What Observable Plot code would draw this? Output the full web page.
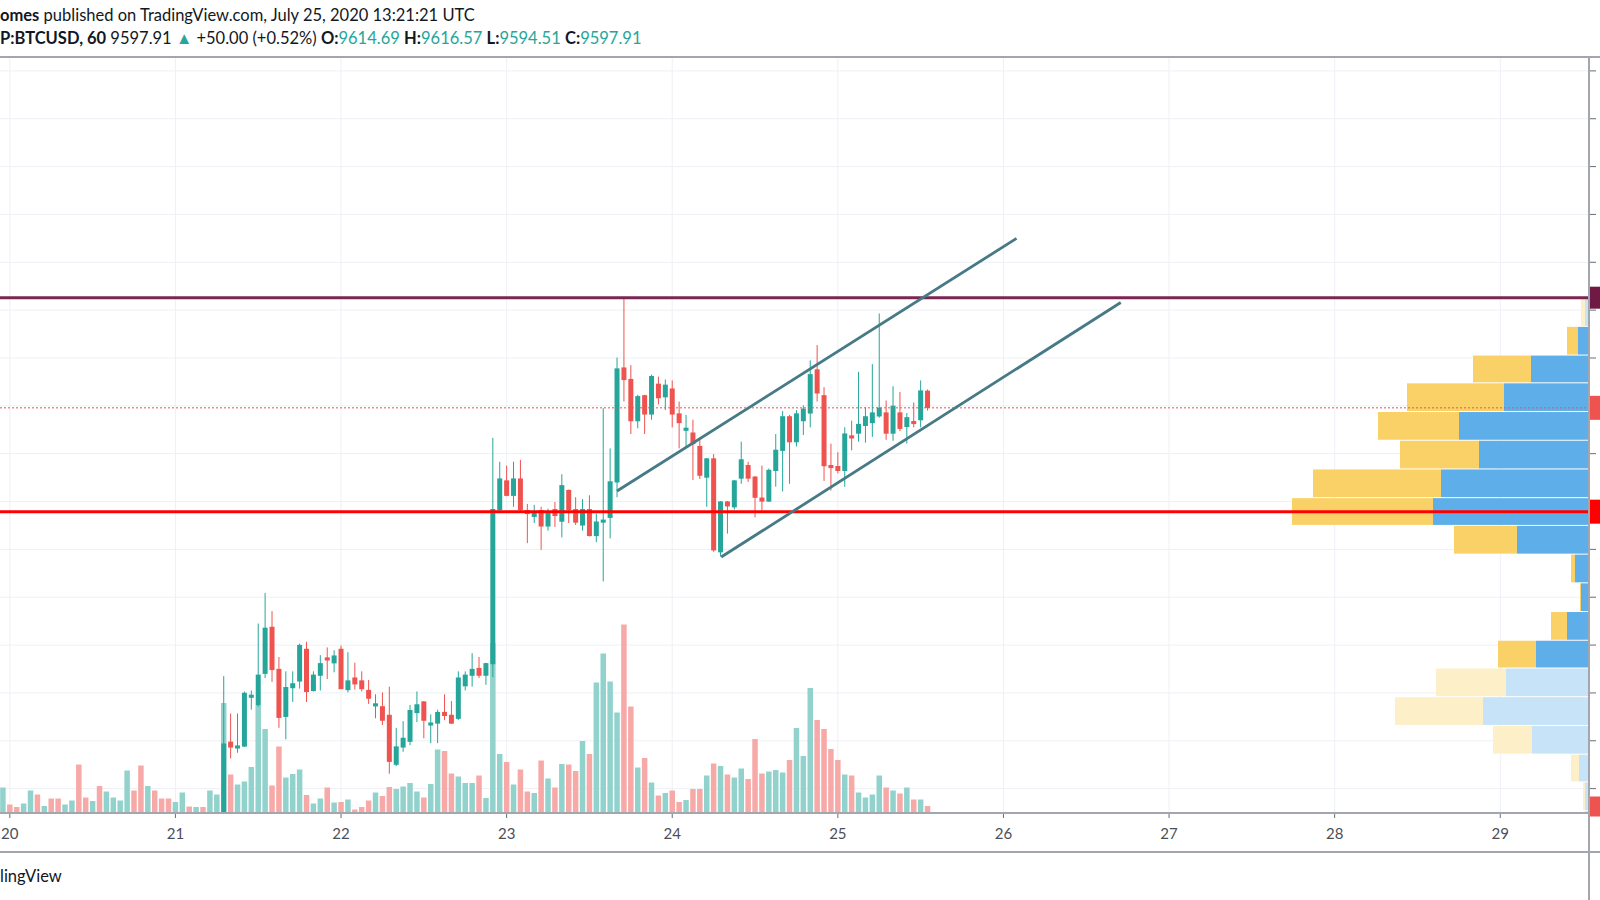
<!DOCTYPE html>
<html>
<head>
<meta charset="utf-8">
<script src="https://cdn.jsdelivr.net/npm/d3@7"></script>
<script src="https://cdn.jsdelivr.net/npm/@observablehq/plot@0.6"></script>
<style>
  body { margin: 0; background: #fff; }
  #page { position: relative; width: 1600px; height: 900px; overflow: hidden; background: #fff;
          font-family: Lato, "Open Sans", sans-serif; color: #131722; }
  .hdr { position: absolute; left: 0; white-space: nowrap; font-size: 16.5px; line-height: 20px; }
  .teal { color: #26a69a; }
  .layer { position: absolute; left: 0; top: 57px; }
  .hline { position: absolute; left: 0; height: 2px; background: #a3a6af; }
  .vline { position: absolute; width: 2px; background: #a3a6af; }
</style>
</head>
<body>
<div id="page">
  <div class="hdr" id="line1" style="top:5px"></div>
  <div class="hdr" id="line2" style="top:28px"></div>
  <div id="layers"></div>
  <div class="hline" style="top:56px; width:1600px"></div>
  <div class="hline" style="top:812px; width:1589px"></div>
  <div class="hline" style="top:851px; width:1600px"></div>
  <div class="vline" style="left:1588px; top:56px; height:844px"></div>
  <div class="hdr" id="footer" style="top:866px; font-size:16.5px"></div>
</div>
<script>
// ---------- header texts ----------
const publisher = "omes";
const publishedText = " published on TradingView.com, July 25, 2020 13:21:21 UTC";
const symbolText = "P:BTCUSD, 60";
const changeText = "+50.00 (+0.52%)";
const footerText = "lingView";

// ---------- axes ----------
const xDomainStart = "2020-07-19T22:39:00Z";
const xDomainEnd = "2020-07-29T12:56:00Z";
const priceDomain = [9174, 9964];
const dayTicks = ["2020-07-20", "2020-07-21", "2020-07-22", "2020-07-23", "2020-07-24",
                  "2020-07-25", "2020-07-26", "2020-07-27", "2020-07-28", "2020-07-29"];
const dayLabels = ["20", "21", "22", "23", "24", "25", "26", "27", "28", "29"];
const priceTicks = [9200, 9250, 9300, 9350, 9400, 9450, 9500, 9550, 9600, 9650,
                    9700, 9750, 9800, 9850, 9900, 9950];

// ---------- hourly candles (from 2020-07-21 07:00 UTC) ----------
const candleStart = "2020-07-21T07:00:00Z";
const candleOpen = [
  9160, 9248, 9242, 9244, 9295, 9287, 9320, 9368, 9324, 9275,
  9305, 9312, 9345, 9302, 9318, 9336, 9331, 9345, 9303, 9315,
  9312, 9302, 9286, 9285, 9276, 9225, 9243, 9249, 9279, 9290,
  9266, 9268, 9279, 9276, 9273, 9307, 9318, 9325, 9318, 9330,
  9491, 9521, 9506, 9523, 9490, 9484, 9490, 9474, 9491, 9479,
  9511, 9491, 9475, 9491, 9464, 9478, 9483, 9520, 9639, 9627,
  9584, 9610, 9591, 9622, 9609, 9617, 9591, 9574, 9571, 9557,
  9525, 9544, 9447, 9499, 9494, 9524, 9537, 9525, 9503, 9500,
  9532, 9553, 9588, 9562, 9584, 9592, 9637, 9610, 9537, 9536,
  9532, 9568, 9571, 9579, 9582, 9589, 9592, 9571, 9592, 9578,
  9583, 9585, 9614.69];
const candleHigh = [
  9317, 9278, 9278, 9301, 9302, 9372, 9404, 9385, 9337, 9322,
  9322, 9351, 9353, 9322, 9339, 9347, 9344, 9349, 9342, 9331,
  9322, 9313, 9298, 9300, 9306, 9263, 9270, 9287, 9301, 9291,
  9277, 9282, 9298, 9291, 9322, 9322, 9341, 9337, 9331, 9566,
  9541, 9537, 9541, 9543, 9497, 9496, 9494, 9492, 9499, 9528,
  9512, 9504, 9502, 9506, 9487, 9597, 9555, 9650, 9713, 9642,
  9611, 9611, 9632, 9630, 9627, 9626, 9604, 9590, 9585, 9565,
  9545, 9549, 9500, 9500, 9522, 9562, 9541, 9526, 9537, 9534,
  9570, 9594, 9590, 9595, 9600, 9647, 9663, 9619, 9560, 9551,
  9577, 9584, 9635, 9598, 9643, 9696, 9605, 9620, 9614, 9592,
  9603, 9626, 9616.57];
const candleLow = [
  9150, 9231, 9237, 9243, 9282, 9285, 9315, 9311, 9263, 9251,
  9290, 9304, 9290, 9301, 9302, 9314, 9321, 9304, 9300, 9303,
  9301, 9288, 9273, 9266, 9215, 9223, 9238, 9245, 9269, 9252,
  9247, 9247, 9271, 9267, 9271, 9302, 9306, 9315, 9308, 9316,
  9490, 9505, 9494, 9489, 9456, 9477, 9449, 9469, 9473, 9462,
  9477, 9475, 9469, 9463, 9457, 9416, 9461, 9504, 9604, 9570,
  9576, 9570, 9585, 9601, 9595, 9577, 9555, 9557, 9522, 9523,
  9494, 9447, 9442, 9466, 9491, 9518, 9520, 9483, 9490, 9499,
  9515, 9510, 9518, 9557, 9569, 9577, 9604, 9521, 9511, 9529,
  9515, 9553, 9562, 9561, 9567, 9587, 9564, 9563, 9573, 9560,
  9577, 9577, 9594.51];
const candleClose = [
  9246, 9243, 9244, 9299, 9297, 9318, 9367, 9324, 9274, 9305,
  9309, 9349, 9301, 9318, 9330, 9334, 9338, 9304, 9312, 9309,
  9304, 9294, 9288, 9271, 9228, 9243, 9252, 9281, 9287, 9271,
  9268, 9279, 9276, 9268, 9315, 9318, 9324, 9318, 9330, 9491,
  9523, 9506, 9523, 9491, 9487, 9488, 9474, 9488, 9485, 9516,
  9491, 9478, 9491, 9464, 9478, 9480, 9520, 9638, 9627, 9584,
  9609, 9591, 9630, 9608, 9621, 9591, 9582, 9576, 9560, 9527,
  9544, 9449, 9499, 9495, 9521, 9543, 9524, 9504, 9500, 9532,
  9553, 9588, 9562, 9591, 9596, 9632, 9613, 9537, 9535, 9532,
  9570, 9566, 9580, 9588, 9592, 9597, 9571, 9599, 9576, 9587,
  9581, 9615, 9597.91];

// ---------- hourly volume (from 2020-07-19 23:00 UTC) ----------
const volumeStart = "2020-07-19T23:00:00Z";
const volumeValues = [
  51, 17, 12, 19, 45, 37, 14, 29, 29, 17, 25, 97, 31, 24, 54, 43, 31, 25, 85, 45,
  95, 54, 45, 29, 29, 22, 41, 13, 12, 12, 45, 37,
  220, 77, 57, 63, 92, 215, 168, 55, 133, 71,
  78, 87, 36, 19, 29, 51, 21, 22, 27, 7,
  12, 25, 41, 34, 52, 48, 53, 60, 43, 31,
  58, 127, 124, 79, 73, 60, 60, 75, 30, 340,
  118, 102, 57, 87, 43, 40, 105, 69, 51, 98,
  97, 84, 144, 118, 261, 319, 263, 201, 377, 213,
  91, 110, 61, 35, 40, 45, 22, 26, 48, 48,
  75, 99, 94, 77, 71, 89, 68, 148, 79, 83,
  86, 81, 106, 170, 114, 250, 186, 168, 128, 106,
  77, 75, 41, 31, 37, 75, 51, 45, 39, 51,
  27, 27, 14];
const volumeUp = [
  1, 0, 0, 1, 1, 0, 1, 0, 0, 1, 1, 0, 0, 1, 0, 1, 1, 1, 1, 0,
  0, 1, 0, 0, 0, 1, 1, 0, 1, 0, 1, 1,
  1, 0, 1, 1, 1, 1, 1, 0, 0, 1,
  1, 1, 0, 1, 1, 0, 1, 0, 1, 0,
  0, 0, 1, 0, 0, 1, 1, 1, 1, 0,
  1, 1, 0, 0, 1, 1, 1, 0, 1, 1,
  1, 0, 1, 0, 0, 1, 0, 1, 0, 1,
  0, 0, 1, 0, 1, 1, 1, 1, 0, 0,
  1, 0, 1, 0, 1, 0, 0, 1, 0, 0,
  1, 0, 1, 0, 1, 1, 0, 0, 0, 1,
  1, 1, 0, 1, 1, 1, 0, 0, 0, 0,
  1, 0, 1, 1, 1, 1, 0, 1, 0, 1,
  0, 1, 0];

// ---------- visible-range volume profile ----------
const profileEdges = [9712, 9682, 9652, 9623, 9593, 9563, 9533, 9503, 9474, 9444,
                      9414, 9384, 9354, 9325, 9295, 9265, 9235, 9206, 9176, 9146];
const profileUpVol = [4, 11, 58, 85, 130, 110, 148, 156, 72, 14, 8, 22, 53, 83, 106, 57, 10, 4, 4];
const profileDownVol = [4, 11, 58, 97, 81, 79, 128, 141, 63, 4, 1, 16, 38, 70, 88, 39, 8, 2, 0];
const profileInValueArea = [0, 1, 1, 1, 1, 1, 1, 1, 1, 1, 1, 1, 1, 0, 0, 0, 0, 0, 0];

// ---------- drawn levels ----------
const resistanceLevel = 9713;
const supportLevel = 9489.4;
const lastPrice = 9597.91;
const channelUpperTimes = ["2020-07-23T16:00:00Z", "2020-07-26T01:54:00Z"];
const channelUpperPrices = [9511, 9775];
const channelLowerTimes = ["2020-07-24T07:06:00Z", "2020-07-26T17:00:00Z"];
const channelLowerPrices = [9442, 9708];

// ---------- colours ----------
const UP = "#26a69a", DOWN = "#ef5350";
const VOL_UP = "#92d2cc", VOL_DOWN = "#f7a9a7";
const VP_UP = "#5eaee9", VP_DOWN = "#f9d166", VP_UP_L = "#c6e3f7", VP_DOWN_L = "#fdefc8";
const GRID = "#eef0f6";

// ---------- header ----------
const fmt = d3.format(".2f");
const last = candleOpen.length - 1;
document.getElementById("line1").innerHTML = `<b>${publisher}</b>${publishedText}`;
document.getElementById("line2").innerHTML =
  `<b>${symbolText}</b> ${fmt(candleClose[last])} <span class="teal">▲</span> ${changeText} ` +
  `<b>O:</b><span class="teal">${fmt(candleOpen[last])}</span> ` +
  `<b>H:</b><span class="teal">${fmt(candleHigh[last])}</span> ` +
  `<b>L:</b><span class="teal">${fmt(candleLow[last])}</span> ` +
  `<b>C:</b><span class="teal">${fmt(candleClose[last])}</span>`;
document.getElementById("footer").textContent = footerText;

// ---------- tables ----------
const candles = candleOpen.map((o, i) => ({
  t: d3.utcHour.offset(new Date(candleStart), i),
  o, h: candleHigh[i], l: candleLow[i], c: candleClose[i]
}));
const volumes = volumeValues.map((v, i) => ({
  t: d3.utcHour.offset(new Date(volumeStart), i), v, up: volumeUp[i] === 1
}));
const profile = profileUpVol.map((u, i) => ({
  top: profileEdges[i], bottom: profileEdges[i + 1], up: u, down: profileDownVol[i],
  va: profileInValueArea[i] === 1
}));
const dayDates = dayTicks.map(d => new Date(d + "T00:00:00Z"));
const dayLabel = d => dayLabels[dayDates.findIndex(x => +x === +d)];
const channels = [
  {x1: new Date(channelUpperTimes[0]), y1: channelUpperPrices[0], x2: new Date(channelUpperTimes[1]), y2: channelUpperPrices[1]},
  {x1: new Date(channelLowerTimes[0]), y1: channelLowerPrices[0], x2: new Date(channelLowerTimes[1]), y2: channelLowerPrices[1]}
];

// ---------- layers ----------
const common = {
  width: 1600, height: 796, marginTop: 0, marginBottom: 40, marginLeft: 0, marginRight: 11,
  style: {background: "transparent", fontFamily: "Lato, sans-serif"}
};
const xTime = {type: "utc", domain: [new Date(xDomainStart), new Date(xDomainEnd)], axis: null};
const yPrice = {domain: priceDomain, axis: null};

const base = Plot.plot({
  ...common, x: xTime, y: yPrice,
  marks: [
    Plot.gridX(dayDates, {stroke: GRID, strokeOpacity: 1}),
    Plot.gridY(priceTicks, {stroke: GRID, strokeOpacity: 1}),
    Plot.axisX(dayDates, {tickSize: 5, tickPadding: 10, tickFormat: dayLabel, fontSize: 15,
                          fill: "#4c4f58", stroke: "#6a6d78", label: null}),
    Plot.axisY(priceTicks, {anchor: "right", tickSize: 6, fill: "none", stroke: "#6a6d78", label: null})
  ]
});

const volumeLayer = Plot.plot({
  ...common, x: xTime, y: {domain: [0, 800], range: [756, 356], axis: null},
  color: {type: "identity"},
  marks: [
    Plot.ruleX(volumes, {x: "t", y1: 0, y2: "v", stroke: d => d.up ? VOL_UP : VOL_DOWN, strokeWidth: 5.5}),
    Plot.ruleY([volumeValues[volumeValues.length - 1]], {stroke: DOWN, strokeWidth: 20, insetLeft: 1590, insetRight: -11})
  ]
});

const profileLayer = Plot.plot({
  ...common, x: {domain: [0, 300], range: [1589, 1289], axis: null}, y: yPrice,
  color: {type: "identity"},
  marks: [
    Plot.rect(profile, {x1: 0, x2: "up", y1: "bottom", y2: "top", insetBottom: 1,
                        fill: d => d.va ? VP_UP : VP_UP_L, clip: true}),
    Plot.rect(profile, {x1: "up", x2: d => d.up + d.down, y1: "bottom", y2: "top", insetBottom: 1,
                        fill: d => d.va ? VP_DOWN : VP_DOWN_L, clip: true})
  ]
});

const priceLayer = Plot.plot({
  ...common, x: xTime, y: yPrice,
  color: {type: "identity"},
  marks: [
    Plot.ruleX(candles, {x: "t", y1: "l", y2: "h", stroke: d => d.c >= d.o ? UP : DOWN, strokeWidth: 1, clip: true}),
    Plot.ruleX(candles, {x: "t", y1: d => Math.max(d.o, d.c), y2: d => Math.min(d.o, d.c),
                         stroke: d => d.c >= d.o ? UP : DOWN, strokeWidth: 5, insetTop: -0.6, insetBottom: -0.6, clip: true}),
    Plot.ruleY([lastPrice], {stroke: DOWN, strokeWidth: 1, strokeDasharray: "2,2"}),
    Plot.ruleY([resistanceLevel], {stroke: "#7a2652", strokeWidth: 3}),
    Plot.ruleY([supportLevel], {stroke: "#ff0000", strokeWidth: 3}),
    Plot.link(channels, {x1: "x1", y1: "y1", x2: "x2", y2: "y2", stroke: "#467a85", strokeWidth: 2.8}),
    Plot.ruleY([resistanceLevel], {stroke: "#6e1a45", strokeWidth: 22, insetLeft: 1590, insetRight: -11}),
    Plot.ruleY([lastPrice], {stroke: DOWN, strokeWidth: 24, insetLeft: 1590, insetRight: -11}),
    Plot.ruleY([supportLevel], {stroke: "#ff0000", strokeWidth: 24, insetLeft: 1590, insetRight: -11})
  ]
});

const layers = document.getElementById("layers");
for (const svg of [base, volumeLayer, profileLayer, priceLayer]) {
  svg.classList.add("layer");
  svg.style.position = "absolute";
  svg.style.left = "0px";
  svg.style.top = "57px";
  svg.style.maxWidth = "none";
  layers.appendChild(svg);
}
</script>
</body>
</html>
